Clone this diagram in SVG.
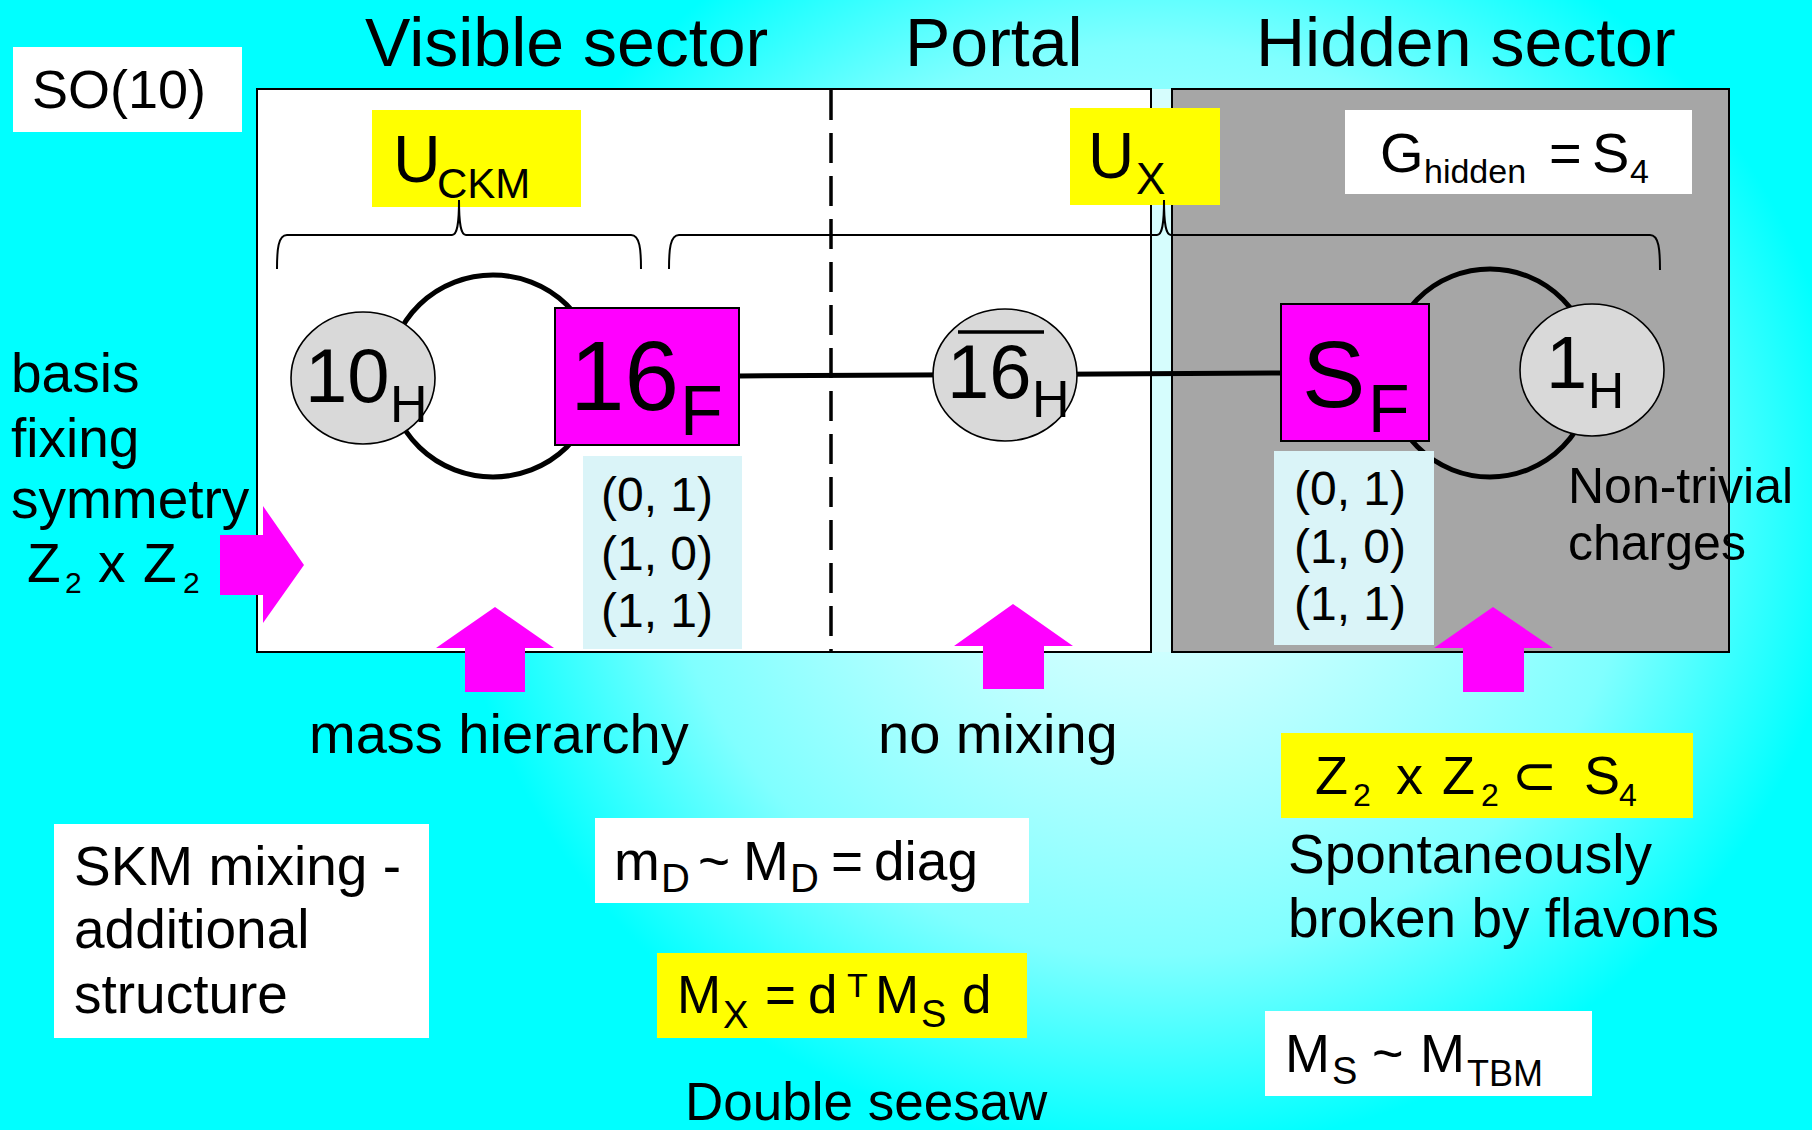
<svg xmlns="http://www.w3.org/2000/svg" width="1812" height="1130" viewBox="0 0 1812 1130">
<defs>
<radialGradient id="bg" gradientUnits="userSpaceOnUse" cx="1150" cy="500" r="700" gradientTransform="translate(1150 500) scale(1 0.93) translate(-1150 -500)">
<stop offset="0" stop-color="#f0ffff"/>
<stop offset="0.3" stop-color="#c4ffff"/>
<stop offset="0.7" stop-color="#80ffff"/>
<stop offset="1" stop-color="#00ffff"/>
</radialGradient>
</defs>
<style>
text{font-family:"Liberation Sans","DejaVu Sans",sans-serif;fill:#000}
.t{font-size:68px}
.box{stroke:#000;stroke-width:2}
.yel{fill:#ffff00}
.wht{fill:#ffffff}
.lb{fill:#daf4f8}
.node{fill:#d9d9d9;stroke:#000;stroke-width:1.6}
.mag{fill:#ff00ff;stroke:#000;stroke-width:2}
.arr{fill:#ff00ff}
.loop{fill:none;stroke:#000;stroke-width:5}
.brace{fill:none;stroke:#000;stroke-width:2}
.f48{font-size:48px}
.f50{font-size:50px}
.f55{font-size:55px}
</style>
<rect x="0" y="0" width="1812" height="1130" fill="url(#bg)"/>

<g id="so10"><rect x="13" y="47" width="229" height="85" class="wht"/><text x="32" y="108" style="font-size:54px">SO(10)</text></g>

<g id="titles">
<text x="365" y="66" class="t">Visible sector</text>
<text x="905" y="66" class="t">Portal</text>
<text x="1256" y="66" class="t">Hidden sector</text>
</g>

<g id="panels">
<rect x="1151" y="89" width="21" height="563" fill="#d6fdfd"/>
<rect x="257" y="89" width="894" height="563" class="wht box"/>
<rect x="1172" y="89" width="557" height="563" fill="#a6a6a6" class="box"/>
<line x1="831" y1="90" x2="831" y2="651" stroke="#000" stroke-width="3.5" stroke-dasharray="30 13"/>
</g>

<g id="uckm"><rect x="372" y="110" width="209" height="97" class="yel"/><text><tspan x="393" y="182" style="font-size:66px">U</tspan><tspan x="437" y="198" style="font-size:42px">CKM</tspan></text></g>
<g id="ux"><rect x="1070" y="108" width="150" height="97" class="yel"/><text><tspan x="1088" y="178" style="font-size:64px">U</tspan><tspan x="1136" y="194" style="font-size:44px">X</tspan></text></g>
<g id="ghidden"><rect x="1345" y="110" width="347" height="84" class="wht"/><text><tspan x="1380" y="172" style="font-size:56px">G</tspan><tspan x="1424" y="183" style="font-size:34px">hidden</tspan><tspan x="1549" y="172" style="font-size:56px">=</tspan><tspan x="1592" y="172" style="font-size:56px">S</tspan><tspan x="1630" y="183" style="font-size:34px">4</tspan></text></g>

<g id="connectors">
<path class="brace" d="M277,269 C277,250 278,235 287,235 L452,235 C457,235 459,225 459,200 C459,225 461,235 466,235 L631,235 C640,235 641,250 641,269"/>
<path class="brace" d="M669,269 C669,250 670,235 679,235 L1157,235 C1162,235 1164,225 1164,200 C1164,225 1166,235 1171,235 L1650,235 C1659,235 1660,250 1660,270"/>
<ellipse class="loop" cx="493" cy="376" rx="104" ry="101"/>
<ellipse class="loop" cx="1490" cy="373" rx="103" ry="104"/>
<line x1="739" y1="376" x2="1281" y2="373" stroke="#000" stroke-width="5"/>
</g>

<g id="n10h"><ellipse class="node" cx="363" cy="378" rx="72" ry="66"/><text><tspan x="305" y="402" style="font-size:76px">10</tspan><tspan x="390" y="422" style="font-size:52px">H</tspan></text></g>
<g id="n16f"><rect class="mag" x="555" y="308" width="184" height="137"/><text><tspan x="570" y="410" style="font-size:98px">16</tspan><tspan x="680" y="435" style="font-size:70px">F</tspan></text></g>
<g id="n16h"><ellipse class="node" cx="1005" cy="375" rx="72" ry="66"/><line x1="958" y1="332" x2="1044" y2="332" stroke="#000" stroke-width="3.5"/><text><tspan x="947" y="398" style="font-size:76px">16</tspan><tspan x="1032" y="417" style="font-size:52px">H</tspan></text></g>
<g id="nsf"><rect class="mag" x="1281" y="304" width="148" height="137"/><text><tspan x="1302" y="407" style="font-size:95px">S</tspan><tspan x="1368" y="432" style="font-size:68px">F</tspan></text></g>
<g id="n1h"><ellipse class="node" cx="1592" cy="370" rx="72" ry="66"/><text><tspan x="1546" y="388" style="font-size:74px">1</tspan><tspan x="1588" y="408" style="font-size:50px">H</tspan></text></g>

<g id="charges-left"><rect class="lb" x="583" y="456" width="159" height="193"/><text class="f48"><tspan x="601" y="511">(0, 1)</tspan><tspan x="601" y="570">(1, 0)</tspan><tspan x="601" y="627">(1, 1)</tspan></text></g>
<g id="charges-right"><rect class="lb" x="1274" y="451" width="160" height="194"/><text class="f48"><tspan x="1294" y="505">(0, 1)</tspan><tspan x="1294" y="563">(1, 0)</tspan><tspan x="1294" y="620">(1, 1)</tspan></text></g>
<g id="nontrivial"><text class="f50"><tspan x="1568" y="503">Non-trivial</tspan><tspan x="1568" y="560">charges</tspan></text></g>

<g id="arrows">
<polygon class="arr" points="220,535 263,535 263,506 304,565 263,623 263,595 220,595"/>
<polygon class="arr" points="495,607 554,648 525,648 525,692 465,692 465,648 436,648"/>
<polygon class="arr" points="1013,604 1073,646 1044,646 1044,689 983,689 983,646 954,646"/>
<polygon class="arr" points="1493,607 1553,648 1524,648 1524,692 1463,692 1463,648 1434,648"/>
</g>

<g id="basis"><text class="f55"><tspan x="11" y="392">basis</tspan><tspan x="11" y="457">fixing</tspan><tspan x="11" y="518">symmetry</tspan></text>
<text><tspan x="27" y="582" style="font-size:55px">Z</tspan><tspan x="65" y="593" style="font-size:30px">2</tspan><tspan x="98" y="582" style="font-size:55px">x</tspan><tspan x="143" y="582" style="font-size:55px">Z</tspan><tspan x="183" y="593" style="font-size:30px">2</tspan></text></g>

<g id="labels">
<text x="309" y="753" style="font-size:56px">mass hierarchy</text>
<text x="878" y="753" style="font-size:56px">no mixing</text>
<text x="685" y="1120" style="font-size:53px">Double seesaw</text>
<text style="font-size:55px"><tspan x="1288" y="873">Spontaneously</tspan><tspan x="1288" y="937">broken by flavons</tspan></text>
</g>

<g id="skm"><rect class="wht" x="54" y="824" width="375" height="214"/><text class="f55"><tspan x="74" y="885">SKM mixing -</tspan><tspan x="74" y="948">additional</tspan><tspan x="74" y="1013">structure</tspan></text></g>

<g id="md"><rect class="wht" x="595" y="818" width="434" height="85"/><text><tspan x="614" y="880" style="font-size:55px">m</tspan><tspan x="661" y="892" style="font-size:40px">D</tspan><tspan x="698" y="880" style="font-size:55px">~</tspan><tspan x="743" y="880" style="font-size:55px">M</tspan><tspan x="790" y="892" style="font-size:40px">D</tspan><tspan x="831" y="880" style="font-size:55px">=</tspan><tspan x="874" y="880" style="font-size:55px">diag</tspan></text></g>

<g id="mx"><rect class="yel" x="657" y="953" width="370" height="85"/><text><tspan x="677" y="1013" style="font-size:53px">M</tspan><tspan x="723" y="1028" style="font-size:38px">X</tspan><tspan x="765" y="1013" style="font-size:53px">=</tspan><tspan x="808" y="1013" style="font-size:53px">d</tspan><tspan x="847" y="997" style="font-size:34px">T</tspan><tspan x="875" y="1013" style="font-size:53px">M</tspan><tspan x="921" y="1027" style="font-size:38px">S</tspan><tspan x="962" y="1013" style="font-size:53px">d</tspan></text></g>

<g id="z2s4"><rect class="yel" x="1281" y="733" width="412" height="85"/><text><tspan x="1315" y="794" style="font-size:54px">Z</tspan><tspan x="1353" y="806" style="font-size:32px">2</tspan><tspan x="1396" y="794" style="font-size:54px">x</tspan><tspan x="1442" y="794" style="font-size:54px">Z</tspan><tspan x="1481" y="806" style="font-size:32px">2</tspan><tspan x="1512" y="794" style="font-size:54px">⊂</tspan><tspan x="1584" y="794" style="font-size:54px">S</tspan><tspan x="1619" y="806" style="font-size:32px">4</tspan></text></g>

<g id="ms"><rect class="wht" x="1265" y="1011" width="327" height="85"/><text><tspan x="1285" y="1072" style="font-size:54px">M</tspan><tspan x="1332" y="1084" style="font-size:38px">S</tspan><tspan x="1372" y="1072" style="font-size:54px">~</tspan><tspan x="1420" y="1072" style="font-size:54px">M</tspan><tspan x="1467" y="1086" style="font-size:36px">TBM</tspan></text></g>
</svg>
